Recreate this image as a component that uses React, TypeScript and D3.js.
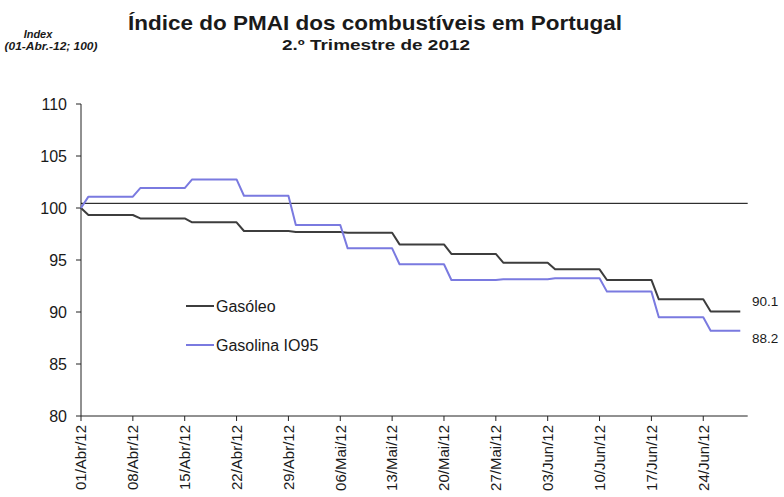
import React from "react";
import * as d3 from "d3";

const weekStarts = [
  "2012-04-02", "2012-04-09", "2012-04-16", "2012-04-23", "2012-04-30",
  "2012-05-07", "2012-05-14", "2012-05-21", "2012-05-28", "2012-06-04",
  "2012-06-11", "2012-06-18", "2012-06-25",
];
const startDate = "2012-04-01";
const endDate = "2012-06-29";
const axisEnd = "2012-06-30";
const baseValue = 100;
const refLine = 100.45;

const gasoleo = [99.33, 99.0, 98.62, 97.79, 97.7, 97.62, 96.5, 95.58, 94.74, 94.1, 93.08, 91.22, 90.05];
const gasolina = [101.09, 101.92, 102.75, 101.18, 98.37, 96.12, 94.59, 93.08, 93.14, 93.24, 91.96, 89.49, 88.2];

const yTicks = [80, 85, 90, 95, 100, 105, 110];
const tickDates = [
  "2012-04-01", "2012-04-08", "2012-04-15", "2012-04-22", "2012-04-29",
  "2012-05-06", "2012-05-13", "2012-05-20", "2012-05-27", "2012-06-03",
  "2012-06-10", "2012-06-17", "2012-06-24",
];
const monthNames = ["Jan", "Fev", "Mar", "Abr", "Mai", "Jun", "Jul", "Ago", "Set", "Out", "Nov", "Dez"];

const seriesNames = ["Gasóleo", "Gasolina IO95"];
const endLabels = ["90.1", "88.2"];
const colors = ["#3d3d3d", "#7a7ae0"];

const parse = (s: string) => {
  const [y, m, d] = s.split("-").map(Number);
  return new Date(Date.UTC(y, m - 1, d));
};

function buildPoints(values: number[]) {
  const pts: [Date, number][] = [[parse(startDate), baseValue]];
  values.forEach((v, i) => {
    const s = parse(weekStarts[i]);
    const e = i < values.length - 1 ? d3.utcDay.offset(parse(weekStarts[i + 1]), -1) : parse(endDate);
    pts.push([s, v]);
    pts.push([e, v]);
  });
  return pts;
}

const fmtLabel = (d: Date) => {
  const dd = String(d.getUTCDate()).padStart(2, "0");
  return `${dd}/${monthNames[d.getUTCMonth()]}/${String(d.getUTCFullYear()).slice(2)}`;
};

export default function App() {
  const W = 784, H = 497;
  const x = d3.scaleUtc().domain([parse(startDate), parse(axisEnd)]).range([81, 747.7]);
  const y = d3.scaleLinear().domain([80, 110]).range([416, 104]);
  const line = d3.line<[Date, number]>().x((d) => x(d[0])).y((d) => y(d[1]));
  const series = [gasoleo, gasolina].map(buildPoints);
  const font = "'Liberation Sans', Arial, sans-serif";
  const textColor = "#1a1a1a";

  return (
    <svg width={W} height={H} style={{ position: "absolute", left: 0, top: 0, background: "#fff" }} fontFamily={font}>
      <rect width={W} height={H} fill="#fff" />
      <text x={375} y={30} textAnchor="middle" fontSize={21} fontWeight="bold" fill={textColor} textLength={494} lengthAdjust="spacingAndGlyphs">
        Índice do PMAI dos combustíveis em Portugal
      </text>
      <text x={376} y={50} textAnchor="middle" fontSize={15} fontWeight="bold" fill={textColor} textLength={188} lengthAdjust="spacingAndGlyphs">
        2.º Trimestre de 2012
      </text>
      <text x={38} y={38} textAnchor="middle" fontSize={11} fontWeight="bold" fontStyle="italic" fill={textColor}>Index</text>
      <text x={51} y={50} textAnchor="middle" fontSize={11} fontWeight="bold" fontStyle="italic" fill={textColor} textLength={93} lengthAdjust="spacingAndGlyphs">(01-Abr.-12;  100)</text>

      {/* y axis */}
      <line x1={81} x2={81} y1={y(110)} y2={y(80)} stroke="#222" strokeWidth={1} />
      {yTicks.map((t) => (
        <g key={t}>
          <line x1={76} x2={81} y1={y(t)} y2={y(t)} stroke="#222" />
          <text x={67} y={y(t)} dy="0.35em" textAnchor="end" fontSize={16} fill={textColor}>{t}</text>
        </g>
      ))}

      {/* x axis */}
      <line x1={81} x2={x(parse(axisEnd))} y1={y(80)} y2={y(80)} stroke="#222" />
      {tickDates.map((s) => {
        const d = parse(s);
        const px = x(d);
        return (
          <g key={s}>
            <line x1={px} x2={px} y1={416} y2={421} stroke="#222" />
            <text transform={`translate(${px},425) rotate(-90)`} textAnchor="end" dy="0.35em" fontSize={15} fill={textColor}>
              {fmtLabel(d)}
            </text>
          </g>
        );
      })}

      {/* reference line */}
      <line x1={81} x2={x(parse(axisEnd))} y1={y(refLine)} y2={y(refLine)} stroke="#000" strokeWidth={1} />

      {series.map((pts, i) => (
        <path key={i} d={line(pts) || ""} fill="none" stroke={colors[i]} strokeWidth={2} strokeLinejoin="round" />
      ))}

      {/* legend */}
      {seriesNames.map((n, i) => (
        <g key={n}>
          <line x1={186} x2={214} y1={306 + i * 39} y2={306 + i * 39} stroke={colors[i]} strokeWidth={2} />
          <text x={216} y={306 + i * 39} dy="0.35em" fontSize={16} fill={textColor}>{n}</text>
        </g>
      ))}

      {/* end labels */}
      {endLabels.map((l, i) => (
        <text key={l} x={752} y={i === 0 ? 301 : 338} dy="0.35em" fontSize={13.5} fill={textColor}>{l}</text>
      ))}
    </svg>
  );
}
